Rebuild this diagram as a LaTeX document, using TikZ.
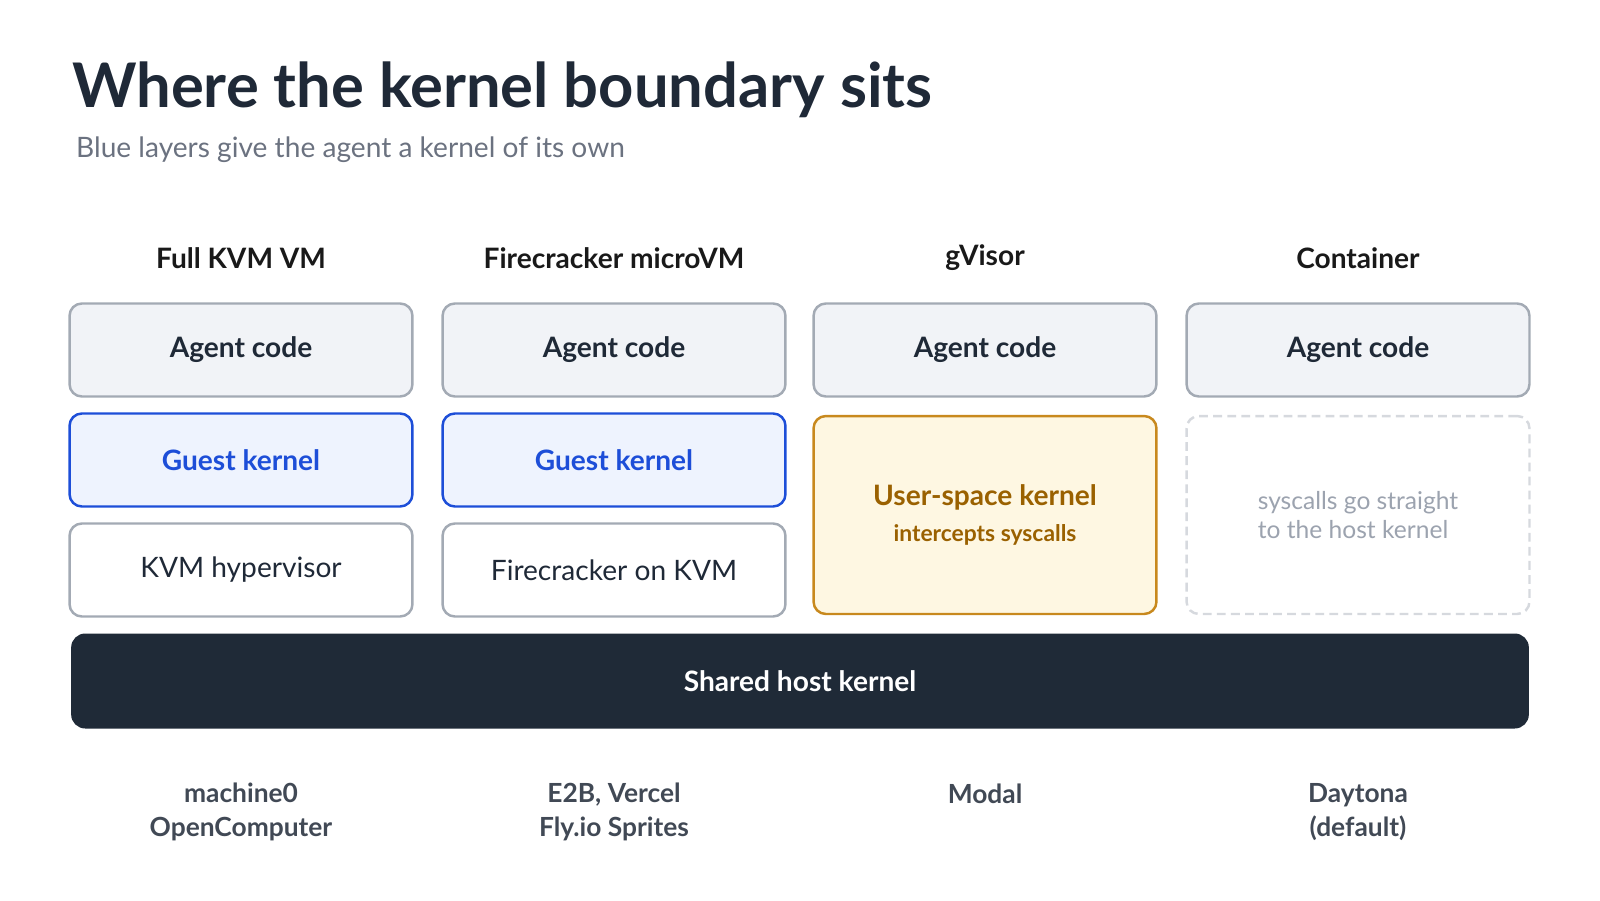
\documentclass[tikz,border=0pt]{standalone}
\usepackage{fontspec}
\setmainfont{Lato}
\definecolor{ink}{HTML}{1F2937}
\definecolor{subgray}{HTML}{6B7280}
\definecolor{agentfill}{HTML}{F1F3F7}
\definecolor{agentline}{HTML}{A3AAB4}
\definecolor{guestfill}{HTML}{EEF3FE}
\definecolor{guestline}{HTML}{1D4ED8}
\definecolor{userfill}{HTML}{FEF7E2}
\definecolor{userline}{HTML}{C8891E}
\definecolor{usertext}{HTML}{9A6100}
\definecolor{dashline}{HTML}{D6D9DE}
\definecolor{dashtext}{HTML}{9CA3AF}
\definecolor{hostfill}{HTML}{1F2A37}
\begin{document}
\begin{tikzpicture}[x=0.02cm, y=-0.02cm,
    layer/.style={draw, line width=1.4pt, rounded corners=7pt, minimum width=6.86cm, minimum height=1.86cm, align=center, font=\fontsize{16}{19}\selectfont\bfseries},
    agent/.style={layer, fill=agentfill, draw=agentline, text=ink},
    guest/.style={layer, fill=guestfill, draw=guestline, text=guestline},
    plain/.style={layer, fill=white, draw=agentline, text=ink, font=\fontsize{16}{19}\selectfont},
    head/.style={font=\fontsize{16}{19}\selectfont\bfseries, text=black!90},
    foot/.style={font=\fontsize{15}{19}\selectfont\bfseries, text=ink!85, align=center}]
    \useasboundingbox (0,0) rectangle (1600,900);

    % Title
    \node[anchor=west, font=\fontsize{35}{40}\selectfont\bfseries, text=ink] (title) at (66,90) {Where the kernel boundary sits};
    \node[anchor=west, font=\fontsize{16}{20}\selectfont, text=subgray] (subtitle) at (70,150) {Blue layers give the agent a kernel of its own};

    % Column heads
    \node[head] (h1) at (241,258) {Full KVM VM};
    \node[head] (h2) at (614,258) {Firecracker microVM};
    \node[head] (h3) at (985,258) {gVisor};
    \node[head] (h4) at (1358,258) {Container};

    % Agent code row
    \node[agent] (a1) at (241,350) {Agent code};
    \node[agent] (a2) at (614,350) {Agent code};
    \node[agent] (a3) at (985,350) {Agent code};
    \node[agent] (a4) at (1358,350) {Agent code};

    % Kernel row
    \node[guest] (g1) at (241,460) {Guest kernel};
    \node[guest] (g2) at (614,460) {Guest kernel};
    \node[layer, fill=userfill, draw=userline, text=usertext, minimum height=3.96cm] (g3) at (985,515)
        {User-space kernel\\[2pt]{\fontsize{13}{16}\selectfont intercepts syscalls}};
    \node[layer, fill=white, draw=dashline, dash pattern=on 5pt off 3pt, text=dashtext, minimum height=3.96cm,
        font=\fontsize{14}{17}\selectfont, align=left] (g4) at (1358,515) {syscalls go straight\\to the host kernel};

    % Hypervisor row
    \node[plain] (v1) at (241,570) {KVM hypervisor};
    \node[plain] (v2) at (614,570) {Firecracker on KVM};

    % Host kernel
    \node[fill=hostfill, rounded corners=8pt, minimum width=29.16cm, minimum height=1.9cm, text=white,
        font=\fontsize{16}{19}\selectfont\bfseries] (host) at (800,681) {Shared host kernel};

    % Examples
    \node[foot] (f1) at (241,812) {machine0\\OpenComputer};
    \node[foot] (f2) at (614,812) {E2B, Vercel\\Fly.io Sprites};
    \node[foot, anchor=north] (f3) at (985,778) {Modal};
    \node[foot] (f4) at (1358,812) {Daytona\\(default)};
\end{tikzpicture}
\end{document}
